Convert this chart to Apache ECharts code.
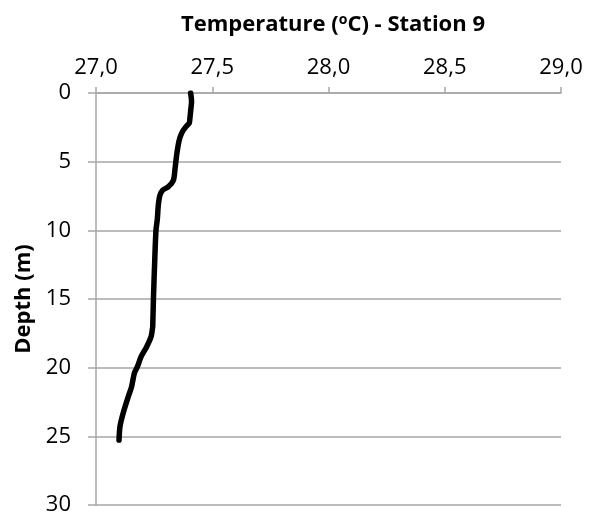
<!DOCTYPE html>
<html><head><meta charset="utf-8">
<script src="https://cdn.jsdelivr.net/npm/echarts@6/dist/echarts.min.js"></script>
<style>html,body{margin:0;padding:0;background:#fff}#c{width:589px;height:521px}</style>
</head><body><div id="c"></div>
<script>
const depths = [0,0.6,1.33,1.82,2.2,2.45,2.9,3.5,4.5,5.5,6.35,6.83,7.07,7.44,8.17,9.14,10,12,15,17,17.25,17.74,18.47,19.2,19.93,20.4,21.4,22.1,23.3,24.3,25.27];
const temps  = [27.407,27.411,27.407,27.404,27.401,27.387,27.369,27.357,27.347,27.34,27.333,27.311,27.287,27.275,27.268,27.264,27.258,27.253,27.247,27.244,27.242,27.237,27.218,27.194,27.178,27.165,27.153,27.139,27.117,27.103,27.099];
const xTicks = [27.0,27.5,28.0,28.5,29.0];
const yTicks = [0,5,10,15,20,25,30];
const titleText = 'Temperature ({sup|o}C) - Station 9';
const yName = 'Depth (m)';

const chart = echarts.init(document.getElementById('c'));
const font = 'Open Sans';
const gray = '#a6a6a6';
chart.setOption({
  animation:false,
  title:{text:titleText,left:328,top:8,textAlign:'center',
    textStyle:{fontFamily:font,fontSize:22,fontWeight:'bold',color:'#000',
      rich:{sup:{fontFamily:font,fontSize:14,fontWeight:'bold',verticalAlign:'top',padding:[0,0,10,0],color:'#000'}}}},
  grid:{left:96,right:28,top:93,bottom:16},
  xAxis:{type:'value',position:'top',min:xTicks[0],max:xTicks[xTicks.length-1],interval:0.5,
    axisLine:{show:true,lineStyle:{color:gray,width:1.5}},
    axisTick:{show:true,length:6,lineStyle:{color:gray,width:1.5}},
    splitLine:{show:false},
    axisLabel:{color:'#000',fontFamily:font,fontSize:22,margin:14,formatter:v=>v.toFixed(1).replace('.',',')}},
  yAxis:{type:'value',inverse:true,min:yTicks[0],max:yTicks[yTicks.length-1],interval:5,
    name:yName,nameLocation:'middle',nameGap:60,
    nameTextStyle:{fontFamily:font,fontSize:22,fontWeight:'bold',color:'#000'},
    axisLine:{show:true,lineStyle:{color:gray,width:1.5}},
    axisTick:{show:true,length:8,lineStyle:{color:gray,width:1.5}},
    splitLine:{show:true,lineStyle:{color:gray,width:1.5}},
    axisLabel:{color:'#000',fontFamily:font,fontSize:22,margin:25}},
  series:[{type:'line',data:depths.map((d,i)=>[temps[i],d]),showSymbol:false,smooth:0.25,
    lineStyle:{color:'#000',width:5.5,cap:'round',join:'round'}}]
});
</script></body></html>
